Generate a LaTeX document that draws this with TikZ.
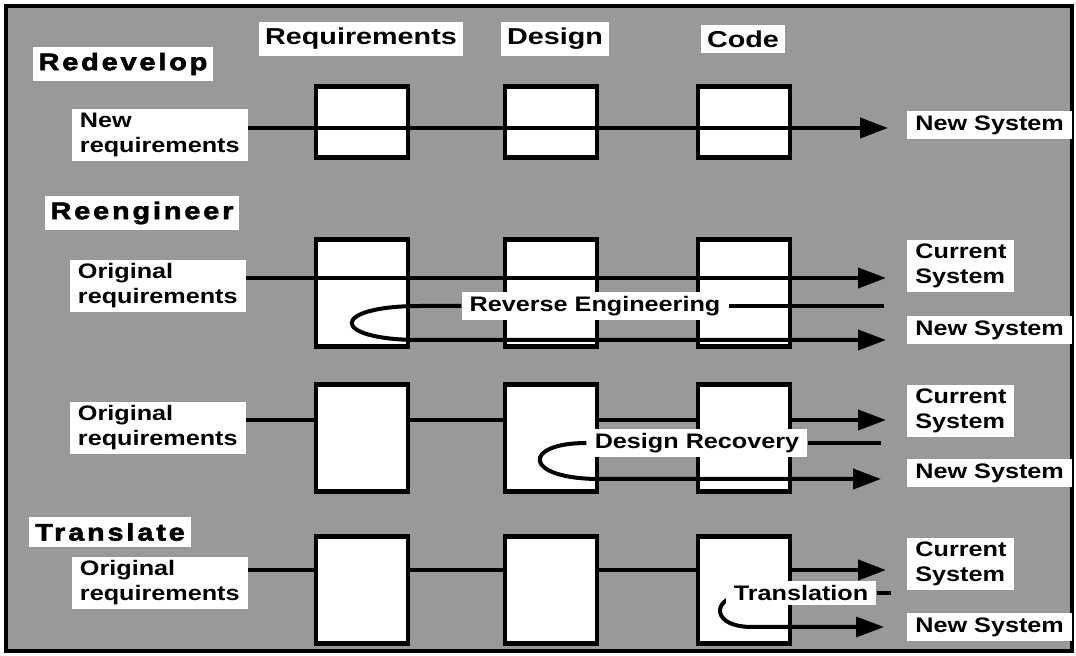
\documentclass[tikz,border=0pt]{standalone}
\usepackage{fontspec}
\newfontfamily\lblfont{Liberation Sans}[FakeStretch=1.2]
\newfontfamily\hdrfont{Liberation Sans}[FakeStretch=1.25]
\newfontfamily\ttlfont{Liberation Sans}[UprightFont={* Bold},FakeBold=2.5,FakeStretch=1.2,LetterSpace=12]
\usetikzlibrary{arrows.meta}

\begin{document}
\begin{tikzpicture}[x=0.5pt,y=-0.5pt]
		\tikzstyle{stage}=[draw,line width=2.4pt,fill=white,minimum width=46pt,minimum height=53.5pt,inner sep=0pt]
		\tikzstyle{lbl}=[fill=white,inner xsep=4pt,inner ysep=2pt,align=left,font=\lblfont\bfseries\fontsize{10.5pt}{12.5pt}\selectfont]
		\tikzstyle{colhead}=[fill=white,inner xsep=3pt,inner ysep=3pt,font=\hdrfont\bfseries\fontsize{11.5pt}{13pt}\selectfont]
		\tikzstyle{ttl}=[fill=white,inner xsep=3pt,inner ysep=3pt,font=\ttlfont\fontsize{12pt}{14pt}\selectfont]
		\tikzstyle{flow}=[line width=2pt]
		\tikzstyle{result}=[flow,-{Triangle[length=14pt,width=10pt]}]

		\useasboundingbox (0,0) rectangle (1076,656);
		\fill[black!40] (6,6) rectangle (1072,651);
		\draw[line width=2pt] (6,6) rectangle (1072,651);

		% column heads and titles
		\node[colhead] (hreq) at (361,39) {Requirements};
		\node[colhead] (hdes) at (555,39) {Design};
		\node[colhead] (hcode) at (743,39) {Code};

		\node[ttl] (redev) at (123,64) {Redevelop};
		\node[ttl] (reeng) at (142,213) {Reengineer};
		\node[ttl] (trans) at (110,532) {Translate};

		% inputs
		\node[lbl,anchor=east] (newreq) at (248,135) {New\\requirements};
		\node[lbl,anchor=east] (orig2) at (246,286) {Original\\requirements};
		\node[lbl,anchor=east] (orig3) at (246,428) {Original\\requirements};
		\node[lbl,anchor=east] (orig4) at (248,583) {Original\\requirements};

		% outputs
		\node[lbl,anchor=west] (ns1) at (907,125) {New System};
		\node[lbl,anchor=west] (cs2) at (907,266) {Current\\System};
		\node[lbl,anchor=west] (ns2) at (907,330) {New System};
		\node[lbl,anchor=west] (cs3) at (907,411) {Current\\System};
		\node[lbl,anchor=west] (ns3) at (907,473) {New System};
		\node[lbl,anchor=west] (cs4) at (907,564) {Current\\System};
		\node[lbl,anchor=west] (ns4) at (907,627) {New System};

		\coordinate (t1) at (888,128);
		\coordinate (t2a) at (886,278);
		\coordinate (t2b) at (886,340);
		\coordinate (e2) at (884,306);
		\coordinate (t3a) at (886,420);
		\coordinate (t3b) at (881,479);
		\coordinate (e3) at (881,443);
		\coordinate (t4a) at (886,570);
		\coordinate (t4b) at (884,627);
		\coordinate (e4) at (891,593);

		\draw[result] (orig3.east |- t3a) -- (t3a);
		\draw[result] (orig4.east |- t4a) -- (t4a);

		% stages
		\node[stage,minimum height=35.5pt] (R1) at (362,122) {};
		\node[stage,minimum height=35.5pt] (D1) at (551,122) {};
		\node[stage,minimum height=35.5pt] (C1) at (744,122) {};

		\node[stage] (R2) at (362,293) {};
		\node[stage] (D2) at (551,293) {};
		\node[stage] (C2) at (744,293) {};

		\node[stage] (R3) at (362,438) {};
		\node[stage] (D3) at (551,438) {};
		\node[stage] (C3) at (744,438) {};

		\node[stage] (R4) at (362,590) {};
		\node[stage] (D4) at (551,590) {};
		\node[stage] (C4) at (744,590) {};

		\draw[result] (newreq.east |- t1) -- (t1);
		\draw[result] (orig2.east |- t2a) -- (t2a);

		% reverse engineering
		\node[lbl] (reverse) at (595,306) {Reverse Engineering};
		\draw[flow] (reverse.east) -- (e2);
		\draw[result] (reverse.west) -- (420,306) .. controls (329,306) and (329,340) .. (420,340) -- (t2b);

		% design recovery
		\node[lbl] (recovery) at (697,443) {Design Recovery};
		\draw[flow] (recovery.east) -- (e3);
		\draw[result] (recovery.west) .. controls (522,443) and (522,479) .. (600,479) -- (t3b);

		% translation
		\draw[result] (738,596) .. controls (712,600) and (712,627) .. (752,627) -- (t4b);
		\node[lbl] (translation) at (801,593) {Translation};
		\draw[flow] (translation.east) -- (e4);
\end{tikzpicture}
\end{document}
